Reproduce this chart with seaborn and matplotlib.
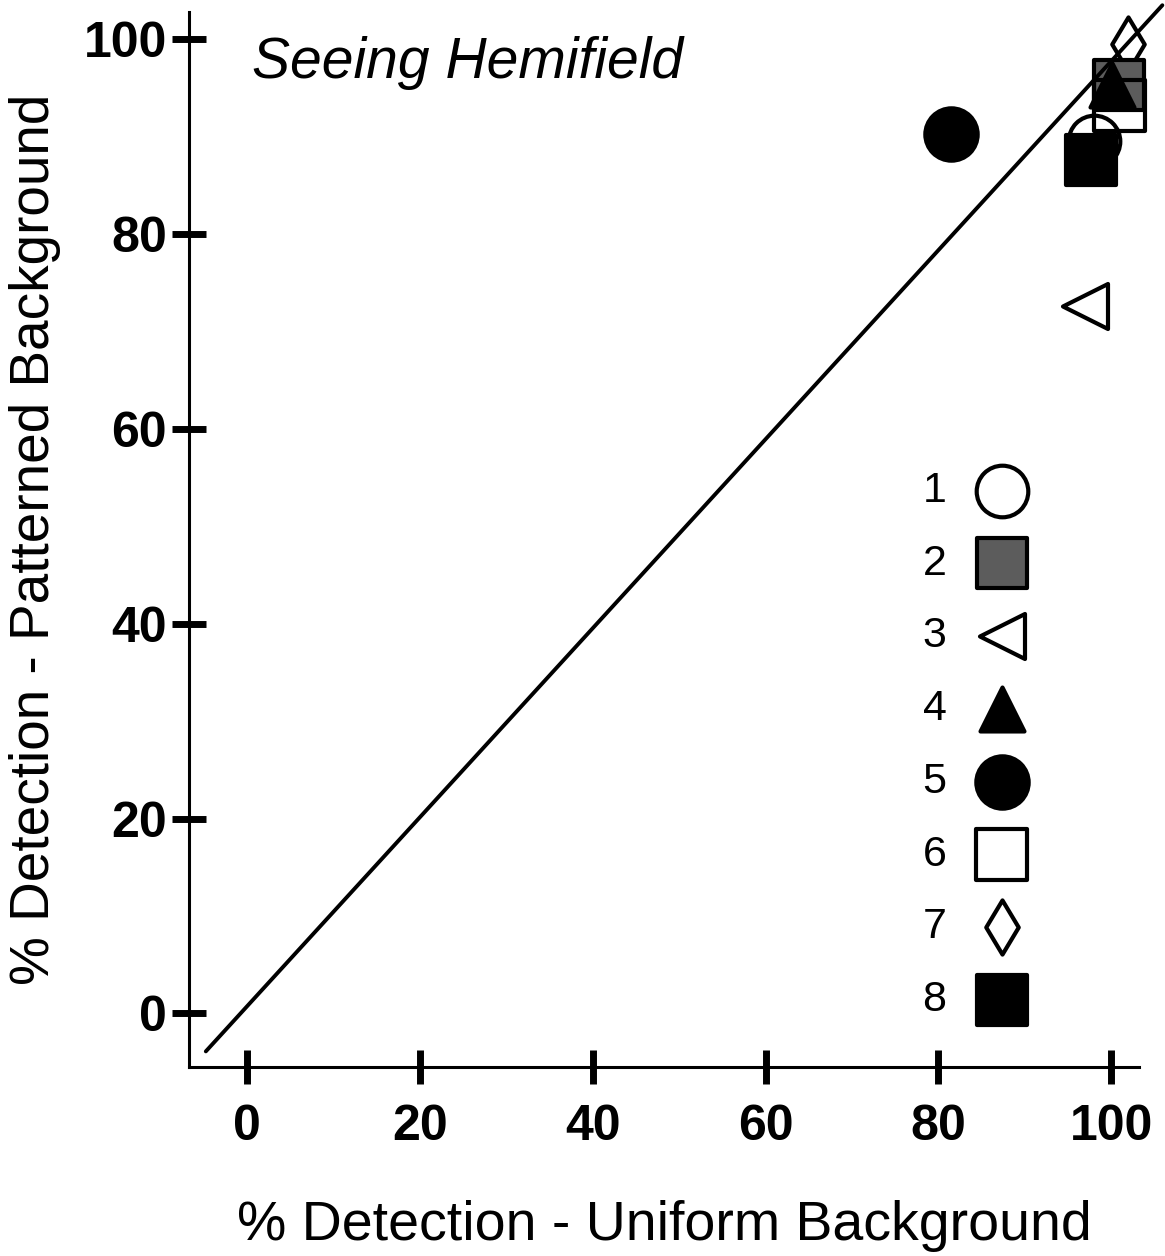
import matplotlib
matplotlib.use("Agg")
import matplotlib.pyplot as plt
import seaborn as sns
import pandas as pd

# ---- data ----
subjects = ["1", "2", "3", "4", "5", "6", "7", "8"]
uniform = [98.0, 100.9, 97.0, 100.1, 81.4, 100.9, 101.9, 97.7]
patterned = [89.6, 95.3, 72.6, 95.3, 90.3, 93.2, 99.5, 87.6]
markers = ["o", "s", "<", "^", "o", "s", "d", "s"]
faces = ["white", "#5c5c5c", "white", "black", "black", "none", "white", "black"]
sizes = [1380, 1340, 1050, 1000, 1420, 1340, 760, 1340]
zorders = [3, 4, 3, 5, 3, 6, 2, 7]
line_x = [-4.75, 105.9]
line_y = [-3.9, 103.5]
xticks = [0, 20, 40, 60, 80, 100]
yticks = [0, 20, 40, 60, 80, 100]

df = pd.DataFrame({"subject": subjects, "uniform": uniform, "patterned": patterned})

sns.set_theme(style="white")
plt.rcParams["font.family"] = ["Liberation Sans", "DejaVu Sans"]
plt.rcParams["text.color"] = "black"
plt.rcParams["axes.labelcolor"] = "black"
plt.rcParams["xtick.color"] = "black"
plt.rcParams["ytick.color"] = "black"

fig = plt.figure(figsize=(11.65, 12.56), dpi=100)
ax = fig.add_axes([0.1622, 0.1505, 0.8155, 0.8399])

handles = []
for i, row in df.iterrows():
    sns.scatterplot(x=[row["uniform"]], y=[row["patterned"]], ax=ax,
                    marker=markers[i], s=sizes[i], facecolor=faces[i],
                    edgecolor="black", linewidth=3.0, zorder=zorders[i],
                    label=row["subject"], legend=False, clip_on=False)
    handles.append(ax.collections[-1])

ax.plot(line_x, line_y, color="black", lw=2.8, zorder=10, clip_on=False)

ax.set_xlim(-6.7, 103.2)
ax.set_ylim(-5.5, 102.8)
ax.set_xticks(xticks)
ax.set_yticks(yticks)
ax.set_xticklabels([str(v) for v in xticks], fontsize=36, fontweight="bold")
ax.set_yticklabels([str(v) for v in yticks], fontsize=36, fontweight="bold")
ax.tick_params(axis="both", direction="inout", length=24, width=5, color="black",
               labelcolor="black", bottom=True, left=True)
ax.tick_params(axis="x", pad=15)
ax.tick_params(axis="y", pad=4)

for s in ["top", "right"]:
    ax.spines[s].set_visible(False)
for s in ["left", "bottom"]:
    ax.spines[s].set_color("black")
    ax.spines[s].set_linewidth(2.2)

ax.set_xlabel("% Detection - Uniform Background", fontsize=40, labelpad=36,
              color="black")
ax.set_ylabel("% Detection - Patterned Background", fontsize=39.5, labelpad=16,
              color="black")

ax.text(0.6, 97.6, "Seeing Hemifield", fontsize=41, style="italic",
        ha="left", va="center", color="black")

leg = ax.legend(handles=handles, labels=subjects, loc="upper left",
                bbox_to_anchor=(0.772, 0.565), markerfirst=False, frameon=False,
                fontsize=31, labelspacing=0.76, handletextpad=0.28,
                borderpad=0, borderaxespad=0)
for t in leg.get_texts():
    t.set_color("black")

fig.savefig("out.png", dpi=100)
